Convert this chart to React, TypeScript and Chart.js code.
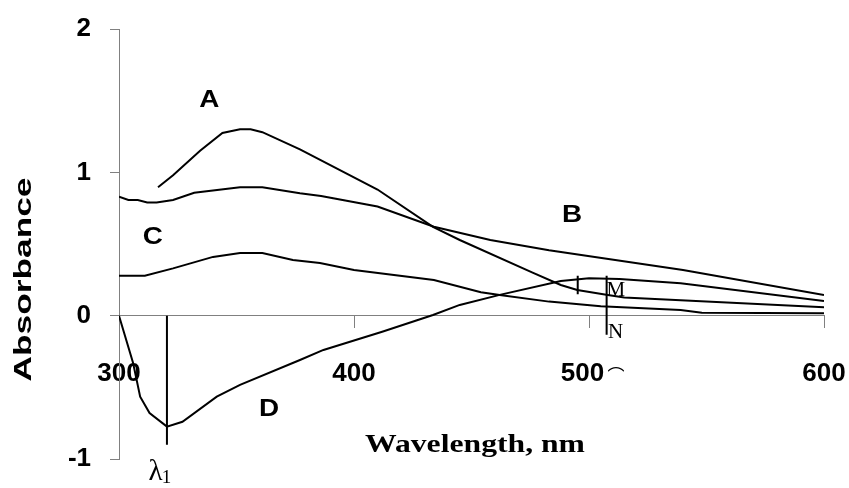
import React, { useEffect, useRef } from "react";
import { Chart, registerables } from "chart.js";

Chart.register(...registerables);

// ---- data (wavelength in nm, absorbance) ----
const aWavelength = [316.6, 323, 334.5, 344, 351.5, 356, 361, 377, 410, 433.6, 445, 476, 488, 495, 508, 515, 539, 600];
const aAbsorbance = [0.896, 0.98, 1.15, 1.275, 1.3, 1.3, 1.28, 1.16, 0.88, 0.62, 0.528, 0.3, 0.214, 0.179, 0.144, 0.126, 0.108, 0.059];

const bWavelength = [300, 304, 308, 312, 316, 323, 332, 351.5, 361, 377, 386, 410, 434, 458, 483, 540, 600];
const bAbsorbance = [0.83, 0.807, 0.807, 0.79, 0.79, 0.807, 0.858, 0.896, 0.896, 0.854, 0.835, 0.762, 0.62, 0.528, 0.457, 0.319, 0.144];

const cWavelength = [300, 311, 323, 340, 351.5, 361, 374, 385.5, 400, 434, 454, 462, 483, 505, 539, 548, 600];
const cAbsorbance = [0.279, 0.279, 0.33, 0.41, 0.437, 0.437, 0.389, 0.368, 0.319, 0.249, 0.163, 0.144, 0.098, 0.065, 0.04, 0.02, 0.017];

const dWavelength = [300, 306, 309, 313, 320.4, 327, 341.6, 351.5, 377, 387, 412, 433.6, 445, 462, 488, 500, 513, 539, 600];
const dAbsorbance = [0, -0.33, -0.565, -0.679, -0.774, -0.74, -0.565, -0.483, -0.309, -0.239, -0.112, 0.005, 0.075, 0.145, 0.242, 0.261, 0.256, 0.226, 0.103];

// marker lines
const lambdaWavelength = [320.4, 320.4];
const lambdaAbsorbance = [0, -0.9];
const mnWavelength = [507.5, 507.5];
const mnAbsorbance = [0.279, -0.134];
const mTickWavelength = [495.2, 495.2];
const mTickAbsorbance = [0.279, 0.15];

// axis ticks
const xTicks = [300, 400, 500, 600];
const xTickLabels = ["300", "400", "500\u2002", "600"];
const yTicks = [2, 1, 0, -1];
const yTickLabels = ["2", "1", "0", "-1"];

// curve labels (placed at data coordinates)
const curveLabels = ["A", "B", "C", "D"];
const curveLabelX = [338.4, 492.8, 314.4, 363.9];
const curveLabelY = [1.505, 0.699, 0.549, -0.651];

const markLabels = ["M", "N"];
const markLabelX = [511.4, 511.3];
const markLabelY = [0.176, -0.114];

const SANS = '"Liberation Sans", Arial, Helvetica, sans-serif';
const SERIF = '"Liberation Serif", "Times New Roman", Times, serif';

function zip(xs: number[], ys: number[]) {
  return xs.map((x, i) => ({ x, y: ys[i] }));
}

function drawText(
  ctx: CanvasRenderingContext2D,
  text: string,
  x: number,
  y: number,
  font: string,
  sx = 1,
  sy = 1,
  rot = 0,
  align: CanvasTextAlign = "center",
  baseline: CanvasTextBaseline = "middle"
) {
  ctx.save();
  ctx.translate(x, y);
  if (rot) ctx.rotate(rot);
  ctx.scale(sx, sy);
  ctx.font = font;
  ctx.textAlign = align;
  ctx.textBaseline = baseline;
  ctx.fillStyle = "#000";
  ctx.fillText(text, 0, 0);
  ctx.restore();
}

const annotationPlugin = {
  id: "annotationText",
  afterDatasetsDraw(chart: any) {
    const ctx: CanvasRenderingContext2D = chart.ctx;
    const xs = chart.scales.x;
    const ys = chart.scales.y;
    curveLabels.forEach((t, i) => {
      drawText(ctx, t, xs.getPixelForValue(curveLabelX[i]), ys.getPixelForValue(curveLabelY[i]), `bold 24px ${SANS}`, 1.16, 1);
    });
    markLabels.forEach((t, i) => {
      drawText(ctx, t, xs.getPixelForValue(markLabelX[i]), ys.getPixelForValue(markLabelY[i]), `21px ${SERIF}`);
    });
    // small arc glyph after the "500" tick label
    drawText(ctx, "\u2312", xs.getPixelForValue(500) + 27, ys.getPixelForValue(0) + 51, `17px "Noto Sans CJK JP", "DejaVu Sans", sans-serif`, 1, 1, 0, "center", "top");
    // lambda_1 under the marker line
    const lx = xs.getPixelForValue(lambdaWavelength[0]);
    const ly = ys.getPixelForValue(-1);
    drawText(ctx, "\u03bb", lx - 11.5, ly + 13, `29px ${SERIF}`);
    drawText(ctx, "1", lx - 0.5, ly + 19.5, `19px ${SERIF}`);
    // axis titles
    drawText(ctx, "Absorbance", 24, 279.5, `bold 24px ${SANS}`, 1.47, 1, -Math.PI / 2);
    drawText(ctx, "Wavelength, nm", 475, 451.7, `bold 25px ${SERIF}`, 1.267, 1, 0, "center", "alphabetic");
  },
};

export default function App() {
  const ref = useRef<HTMLCanvasElement | null>(null);

  useEffect(() => {
    if (!ref.current) return;
    const line = (data: { x: number; y: number }[], label: string) => ({
      label,
      data,
      borderColor: "#000",
      backgroundColor: "#000",
      borderWidth: 2,
      pointRadius: 0,
      tension: 0,
      fill: false,
    });
    const chart = new Chart(ref.current, {
      type: "line",
      data: {
        datasets: [
          line(zip(aWavelength, aAbsorbance), "A"),
          line(zip(bWavelength, bAbsorbance), "B"),
          line(zip(cWavelength, cAbsorbance), "C"),
          line(zip(dWavelength, dAbsorbance), "D"),
          line(zip(lambdaWavelength, lambdaAbsorbance), "lambda1"),
          line(zip(mnWavelength, mnAbsorbance), "MN"),
          line(zip(mTickWavelength, mTickAbsorbance), "Mtick"),
        ],
      },
      options: {
        animation: false,
        responsive: false,
        events: [],
        layout: { padding: { left: 0, right: 25, top: 29, bottom: 29 } },
        plugins: { legend: { display: false }, tooltip: { enabled: false } },
        scales: {
          x: {
            type: "linear",
            min: 300,
            max: 600,
            position: { y: 0 } as any,
            afterBuildTicks: (s: any) => {
              s.ticks = xTicks.map((v) => ({ value: v }));
            },
            afterFit: (s: any) => {
              s.paddingLeft = 0;
              s.paddingRight = 0;
              s.paddingTop = 0;
              s.paddingBottom = 0;
            },
            ticks: {
              autoSkip: false,
              maxRotation: 0,
              padding: 31,
              color: "#000",
              font: { family: SANS, size: 26, weight: "bold" },
              callback: (v: any) => xTickLabels[xTicks.indexOf(Number(v))] ?? "",
            },
            grid: { drawOnChartArea: false, drawTicks: true, tickLength: 12, color: "#808080", lineWidth: 1 },
            border: { color: "#808080", width: 1 },
          },
          y: {
            type: "linear",
            min: -1,
            max: 2,
            position: "left",
            afterBuildTicks: (s: any) => {
              s.ticks = yTicks.map((v) => ({ value: v }));
            },
            afterFit: (s: any) => {
              s.width = 119;
              s.paddingLeft = 0;
              s.paddingRight = 0;
              s.paddingTop = 0;
              s.paddingBottom = 0;
            },
            ticks: {
              padding: 19,
              color: "#000",
              font: { family: SANS, size: 26, weight: "bold" },
              callback: (v: any) => yTickLabels[yTicks.indexOf(Number(v))] ?? "",
            },
            grid: { drawOnChartArea: false, drawTicks: true, tickLength: 9, color: "#808080", lineWidth: 1 },
            border: { color: "#808080", width: 1 },
          },
        },
      },
      plugins: [annotationPlugin],
    } as any);
    return () => chart.destroy();
  }, []);

  return (
    <div style={{ position: "absolute", left: 0, top: 0, width: 849, height: 488, background: "#fff" }}>
      <canvas ref={ref} width={849} height={488} style={{ display: "block", width: 849, height: 488 }} />
    </div>
  );
}
